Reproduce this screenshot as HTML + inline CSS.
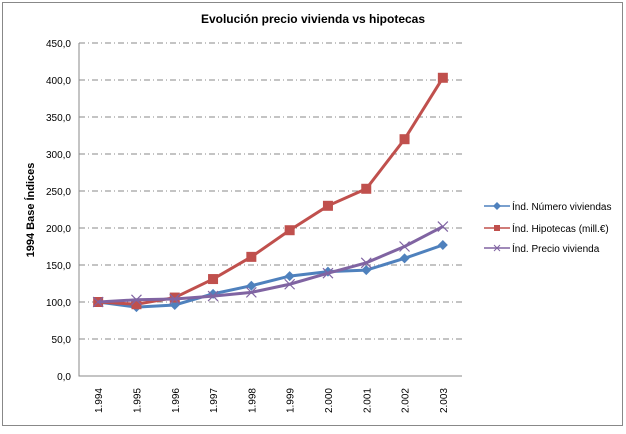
<!DOCTYPE html>
<html><head><meta charset="utf-8"><style>
body{margin:0;background:#fff;font-family:"Liberation Sans",sans-serif}
svg text{font-family:"Liberation Sans",sans-serif}
</style></head><body>
<svg id="c" width="626" height="429">
<rect x="2.5" y="2.5" width="620" height="423" fill="#fff" stroke="#888"/>
<text x="313" y="23" text-anchor="middle" font-size="12" font-weight="bold">Evolución  precio vivienda  vs  hipotecas</text>
<text transform="translate(34,210) rotate(-90)" text-anchor="middle" font-size="11" font-weight="bold">1994 Base Índices</text>
<g id="grid"></g><g id="series"></g>
<g font-size="10">
<g><line x1="484" y1="206" x2="510" y2="206" stroke="#4F81BD" stroke-width="1.5"/><path d="M497 202 L501 206 L497 210 L493 206Z" fill="#4F81BD"/><text x="512" y="210">Índ. Número viviendas</text></g>
<g><line x1="484" y1="228" x2="510" y2="228" stroke="#C0504D" stroke-width="1.5"/><rect x="494" y="225" width="6" height="6" fill="#C0504D"/><text x="512" y="232">Índ. Hipotecas (mill.€)</text></g>
<g><line x1="484" y1="248" x2="510" y2="248" stroke="#8064A2" stroke-width="1.5"/><path d="M494 245 L500 251 M500 245 L494 251" stroke="#8064A2"/><text x="512" y="252">Índ. Precio vivienda</text></g>
</g>
</svg>
<script>
const categories=["1.994","1.995","1.996","1.997","1.998","1.999","2.000","2.001","2.002","2.003"];
const numeroViviendas=[100,93,96,111,122,135,141,143,159,177];
const hipotecas=[100,97,106,131,161,197,230,253,320,403];
const precioVivienda=[100,103,104,108,113,124,139,153,175,202];
const yTicks=[0,50,100,150,200,250,300,350,400,450];
const yTickLabels=["0,0","50,0","100,0","150,0","200,0","250,0","300,0","350,0","400,0","450,0"];
const NS="http://www.w3.org/2000/svg";
const L=79,R=462,T=43,B=376;
const y=v=>B-(v/450)*(B-T);
const x=i=>L+(R-L)/categories.length*(i+0.5);
function mk(tag,attrs,parent){const e=document.createElementNS(NS,tag);for(const k in attrs)e.setAttribute(k,attrs[k]);parent.appendChild(e);return e;}
const grid=document.getElementById('grid');
yTicks.forEach((t,i)=>{
  if(t>0){const g=mk('line',{x1:L,x2:R,y1:y(t),y2:y(t),stroke:'#888','stroke-dasharray':'6,3,1,3'},grid);
  
  }
  const tx=mk('text',{x:L-8,y:y(t)+4,'text-anchor':'end','font-size':'10'},grid);tx.textContent=yTickLabels[i];
  
  
});
const ax=mk('path',{d:`M${L} ${T} L${L} ${B} L${R} ${B}`,fill:'none',stroke:'#888'},grid);


categories.forEach((c,i)=>{
  const t=mk('text',{transform:`translate(${x(i)+4},${B+12}) rotate(-90)`,'text-anchor':'end','font-size':'10'},grid);t.textContent=c;
  
  
});
const S=document.getElementById('series');
function series(data,color,marker,name){
  const g=mk('g',{},S);
  
  
  mk('polyline',{points:data.map((v,i)=>x(i)+','+y(v)).join(' '),fill:'none',stroke:color,'stroke-width':3},g);
  data.forEach((v,i)=>{const cx=x(i),cy=y(v);let m;
    if(marker==='d')m=mk('path',{d:`M${cx} ${cy-5}L${cx+5} ${cy}L${cx} ${cy+5}L${cx-5} ${cy}Z`,fill:color},g);
    else if(marker==='s')m=mk('rect',{x:cx-5,y:cy-5,width:10,height:10,fill:color},g);
    else m=mk('path',{d:`M${cx-5} ${cy-5}L${cx+5} ${cy+5}M${cx+5} ${cy-5}L${cx-5} ${cy+5}`,stroke:color,'stroke-width':1.2},g);
    
    
  });
}
series(numeroViviendas,'#4F81BD','d','series-numero-viviendas');
series(hipotecas,'#C0504D','s','series-hipotecas');
series(precioVivienda,'#8064A2','x','series-precio-vivienda');
</script>
</body></html>
